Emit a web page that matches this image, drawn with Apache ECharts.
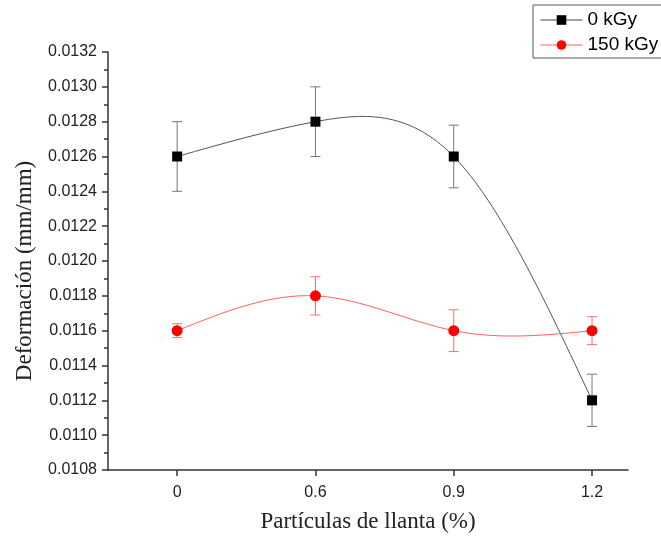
<!DOCTYPE html>
<html>
<head>
<meta charset="utf-8">
<script src="https://cdn.jsdelivr.net/npm/echarts@6/dist/echarts.min.js"></script>
<style>html,body{margin:0;padding:0;background:#fff}#c{width:661px;height:538px}</style>
</head>
<body>
<div id="c"></div>
<script>
var xLabels = ['0', '0.6', '0.9', '1.2'];
var yTicks = [0.0108, 0.0132, 0.0002];
var values0 = [0.0126, 0.0128, 0.0126, 0.0112];
var errUp0 = [0.0002, 0.0002, 0.00018, 0.00015];
var errDown0 = [0.0002, 0.0002, 0.00018, 0.00015];
var values150 = [0.0116, 0.0118, 0.0116, 0.0116];
var errUp150 = [0.00004, 0.00011, 0.00012, 0.00008];
var errDown150 = [0.00004, 0.00011, 0.00012, 0.00008];

function pts(vals) { return vals.map(function (v, i) { return [i, v]; }); }
function errData(vals, up, down) {
  return vals.map(function (v, i) { return [i, v - down[i], v + up[i]]; });
}
function errRender(color) {
  return function (params, api) {
    var x = api.value(0);
    var lo = api.coord([x, api.value(1)]);
    var hi = api.coord([x, api.value(2)]);
    var hw = 5;
    var st = { stroke: color, lineWidth: 1 };
    return {
      type: 'group',
      children: [
        { type: 'line', shape: { x1: lo[0], y1: lo[1], x2: hi[0], y2: hi[1] }, style: st },
        { type: 'line', shape: { x1: lo[0] - hw, y1: lo[1], x2: lo[0] + hw, y2: lo[1] }, style: st },
        { type: 'line', shape: { x1: hi[0] - hw, y1: hi[1], x2: hi[0] + hw, y2: hi[1] }, style: st }
      ]
    };
  };
}
// natural cubic spline slopes (unit knot spacing) for drawing the curve as Bezier segments
function splineSlopes(y) {
  var n = y.length, M = new Array(n).fill(0);
  if (n > 2) {
    var m = n - 2, a = [], b = [], c = [], d = [];
    for (var i = 0; i < m; i++) {
      a[i] = 1; b[i] = 4; c[i] = 1;
      d[i] = 6 * (y[i] - 2 * y[i + 1] + y[i + 2]);
    }
    for (var i = 1; i < m; i++) {
      var w = a[i] / b[i - 1];
      b[i] -= w * c[i - 1]; d[i] -= w * d[i - 1];
    }
    var sol = [];
    sol[m - 1] = d[m - 1] / b[m - 1];
    for (var i = m - 2; i >= 0; i--) sol[i] = (d[i] - c[i] * sol[i + 1]) / b[i];
    for (var i = 0; i < m; i++) M[i + 1] = sol[i];
  }
  var s = [];
  for (var i = 0; i < n - 1; i++) s[i] = (y[i + 1] - y[i]) - (2 * M[i] + M[i + 1]) / 6;
  s[n - 1] = (y[n - 1] - y[n - 2]) + (M[n - 2] + 2 * M[n - 1]) / 6;
  return s;
}
function splineRender(vals, color) {
  return function (params, api) {
    if (params.dataIndex !== 0) return null;
    var s = splineSlopes(vals);
    var p0 = api.coord([0, vals[0]]);
    var d = 'M' + p0[0] + ' ' + p0[1];
    for (var i = 0; i < vals.length - 1; i++) {
      var c1 = api.coord([i + 1 / 3, vals[i] + s[i] / 3]);
      var c2 = api.coord([i + 2 / 3, vals[i + 1] - s[i + 1] / 3]);
      var p = api.coord([i + 1, vals[i + 1]]);
      d += ' C' + c1[0] + ' ' + c1[1] + ' ' + c2[0] + ' ' + c2[1] + ' ' + p[0] + ' ' + p[1];
    }
    return { type: 'path', shape: { pathData: d }, style: { stroke: color, fill: null, lineWidth: 1 } };
  };
}

var chart = echarts.init(document.getElementById('c'), null, { renderer: 'canvas' });
chart.setOption({
  animation: false,
  backgroundColor: '#fff',
  grid: { left: 108, right: 33, top: 52, bottom: 67 },
  legend: {
    data: [
      { name: '0 kGy', lineStyle: { color: '#444', width: 1, opacity: 1 } },
      { name: '150 kGy', lineStyle: { color: '#ff6060', width: 1, opacity: 1 } }
    ],
    orient: 'vertical',
    left: 533, top: 5,
    padding: [5, 20, 3, 7],
    itemGap: 5,
    itemWidth: 42, itemHeight: 12,
    borderColor: '#555', borderWidth: 1,
    textStyle: { fontFamily: 'Liberation Sans, Arial, sans-serif', fontSize: 19, lineHeight: 20, color: '#000' }
  },
  xAxis: {
    type: 'value',
    min: -0.5, max: 3.26,
    name: 'Partículas de llanta (%)',
    nameLocation: 'middle',
    nameGap: 40,
    nameTextStyle: { fontFamily: 'Liberation Serif, Times New Roman, serif', fontSize: 23, color: '#222' },
    splitLine: { show: false },
    axisLine: { show: true, onZero: false, lineStyle: { color: '#333', width: 1.5 } },
    axisTick: { show: true, inside: false, length: 6, customValues: [0, 1, 2, 3], lineStyle: { color: '#333', width: 1.5 } },
    axisLabel: {
      customValues: [0, 1, 2, 3],
      margin: 15,
      fontFamily: 'Liberation Sans, Arial, sans-serif', fontSize: 16, color: '#222',
      formatter: function (v) { return xLabels[Math.round(v)]; }
    }
  },
  yAxis: {
    type: 'value',
    min: yTicks[0], max: yTicks[1], interval: yTicks[2],
    name: 'Deformación (mm/mm)',
    nameLocation: 'middle',
    nameGap: 72,
    nameTextStyle: { fontFamily: 'Liberation Serif, Times New Roman, serif', fontSize: 23, color: '#222', padding: [0, 20, 0, 0] },
    splitLine: { show: false },
    axisLine: { show: true, onZero: false, lineStyle: { color: '#333', width: 1.5 } },
    axisTick: { show: true, inside: false, length: 6, lineStyle: { color: '#333', width: 1.5 } },
    minorTick: { show: true, splitNumber: 2, length: 4, lineStyle: { color: '#333', width: 1.5 } },
    axisLabel: {
      margin: 11,
      fontFamily: 'Liberation Sans, Arial, sans-serif', fontSize: 16, color: '#222',
      formatter: function (v) { return v.toFixed(4); }
    }
  },
  series: [
    {
      type: 'custom', name: 'err0', renderItem: errRender('#777'),
      data: errData(values0, errUp0, errDown0), z: 1, silent: true
    },
    {
      type: 'custom', name: 'err150', renderItem: errRender('#ff7070'),
      data: errData(values150, errUp150, errDown150), z: 1, silent: true
    },
    {
      type: 'custom', name: 'curve0', renderItem: splineRender(values0, '#555'),
      data: pts(values0), z: 2, silent: true
    },
    {
      type: 'custom', name: 'curve150', renderItem: splineRender(values150, '#ff6060'),
      data: pts(values150), z: 2, silent: true
    },
    {
      type: 'line', name: '0 kGy', data: pts(values0),
      symbol: 'rect', symbolSize: 10,
      lineStyle: { color: '#444', width: 1, opacity: 0 },
      itemStyle: { color: '#000' }, z: 3
    },
    {
      type: 'line', name: '150 kGy', data: pts(values150),
      symbol: 'circle', symbolSize: 11,
      lineStyle: { color: '#ff6060', width: 1, opacity: 0 },
      itemStyle: { color: '#ff0000' }, z: 3
    }
  ]
});
</script>
</body>
</html>
